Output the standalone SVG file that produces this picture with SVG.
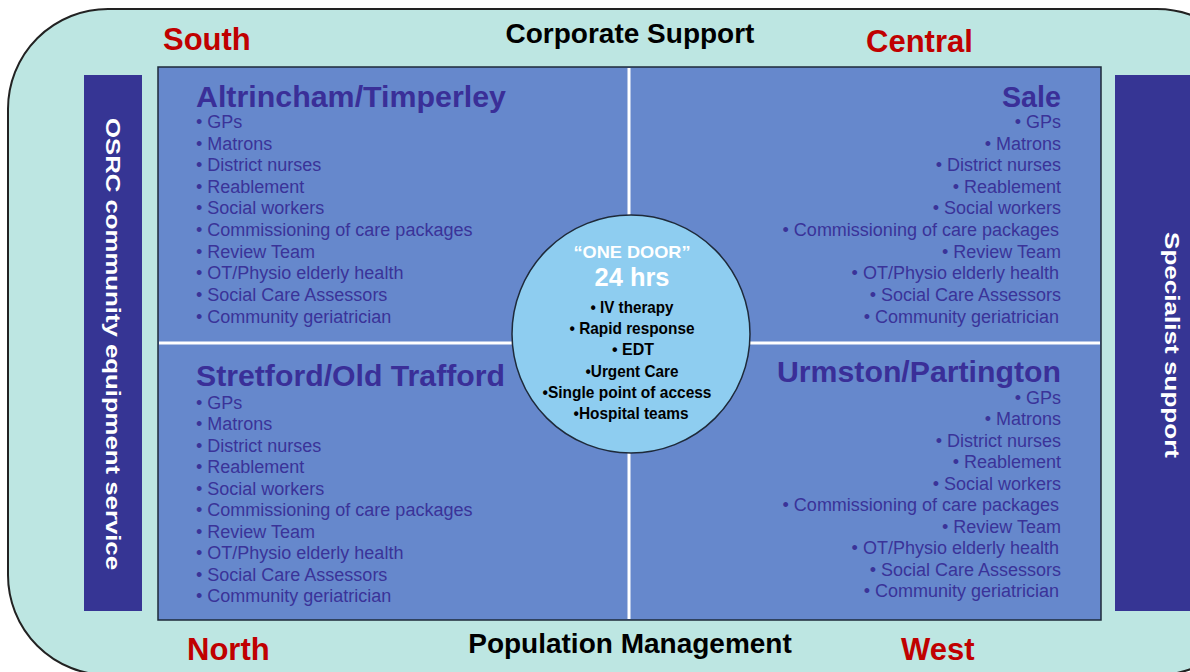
<svg xmlns="http://www.w3.org/2000/svg" width="1190" height="672" viewBox="0 0 1190 672">
<style>
.region{font-family:"Liberation Sans",Arial,sans-serif;font-weight:bold;font-size:31px;fill:#c00000}
.band{font-family:"Liberation Sans",Arial,sans-serif;font-weight:bold;font-size:28px;fill:#000}
.head{font-family:"Liberation Sans",Arial,sans-serif;font-weight:bold;font-size:29px;fill:#3a2f98}
.item{font-family:"Liberation Sans",Arial,sans-serif;font-size:18px;fill:#3a3399}
.side{font-family:"Liberation Sans",Arial,sans-serif;font-weight:bold;font-size:21px;fill:#fff}
.cw{font-family:"Liberation Sans",Arial,sans-serif;font-weight:bold;fill:#fff;text-anchor:middle}
.cb{font-family:"Liberation Sans Narrow","Liberation Sans",Arial,sans-serif;font-weight:bold;font-size:17px;fill:#000;text-anchor:middle}
.bar{fill:#363594}
.div{stroke:#fff;stroke-width:3}
</style>
<g id="background">
<rect x="8" y="9" width="1249" height="666" rx="100" ry="100" fill="#bde6e2" stroke="#222" stroke-width="2"/>
</g>
<g id="labels">
<text class="region" x="163" y="50">South</text>
<text class="region" x="866" y="52">Central</text>
<text class="region" x="187" y="660">North</text>
<text class="region" x="901" y="660">West</text>
<text class="band" x="630" y="43" text-anchor="middle">Corporate Support</text>
<text class="band" x="630" y="653" text-anchor="middle">Population Management</text>
</g>
<g id="osrc">
<rect class="bar" x="84" y="75" width="58" height="536"/>
<text class="side" x="113" y="344" text-anchor="middle" dominant-baseline="central" transform="rotate(90 113 344)" textLength="452" lengthAdjust="spacingAndGlyphs">OSRC community equipment service</text>
</g>
<g id="specialist">
<rect class="bar" x="1115" y="75" width="90" height="536"/>
<text class="side" x="1172" y="345" text-anchor="middle" dominant-baseline="central" transform="rotate(90 1172 345)" textLength="226" lengthAdjust="spacingAndGlyphs">Specialist support</text>
</g>
<g id="panel">
<rect x="158" y="67" width="943" height="553" fill="#6688cc" stroke="#1e2a3a" stroke-width="1.5"/>
</g>
<g id="connectors">
<line class="div" x1="629" y1="68" x2="629" y2="619"/>
<line class="div" x1="159" y1="343" x2="1100" y2="343"/>
</g>
<g id="altrincham">
<text class="head" x="196" y="107" textLength="310" lengthAdjust="spacingAndGlyphs">Altrincham/Timperley</text>
<text class="item" x="196" y="128">• GPs</text>
<text class="item" x="196" y="150">• Matrons</text>
<text class="item" x="196" y="171">• District nurses</text>
<text class="item" x="196" y="193">• Reablement</text>
<text class="item" x="196" y="214">• Social workers</text>
<text class="item" x="196" y="236">• Commissioning of care packages</text>
<text class="item" x="196" y="258">• Review Team</text>
<text class="item" x="196" y="279">• OT/Physio elderly health</text>
<text class="item" x="196" y="301">• Social Care Assessors</text>
<text class="item" x="196" y="323">• Community geriatrician</text>
</g>
<g id="sale" text-anchor="end">
<text class="head" x="1061" y="107" textLength="59" lengthAdjust="spacingAndGlyphs">Sale</text>
<text class="item" x="1061" y="128">• GPs</text>
<text class="item" x="1061" y="150">• Matrons</text>
<text class="item" x="1061" y="171">• District nurses</text>
<text class="item" x="1061" y="193">• Reablement</text>
<text class="item" x="1061" y="214">• Social workers</text>
<text class="item" x="1059" y="236">• Commissioning of care packages</text>
<text class="item" x="1061" y="258">• Review Team</text>
<text class="item" x="1059" y="279">• OT/Physio elderly health</text>
<text class="item" x="1061" y="301">• Social Care Assessors</text>
<text class="item" x="1059" y="323">• Community geriatrician</text>
</g>
<g id="stretford">
<text class="head" x="196" y="386" textLength="309" lengthAdjust="spacingAndGlyphs">Stretford/Old Trafford</text>
<text class="item" x="196" y="409">• GPs</text>
<text class="item" x="196" y="430">• Matrons</text>
<text class="item" x="196" y="452">• District nurses</text>
<text class="item" x="196" y="473">• Reablement</text>
<text class="item" x="196" y="495">• Social workers</text>
<text class="item" x="196" y="516">• Commissioning of care packages</text>
<text class="item" x="196" y="538">• Review Team</text>
<text class="item" x="196" y="559">• OT/Physio elderly health</text>
<text class="item" x="196" y="581">• Social Care Assessors</text>
<text class="item" x="196" y="602">• Community geriatrician</text>
</g>
<g id="urmston" text-anchor="end">
<text class="head" x="1061" y="382" textLength="284" lengthAdjust="spacingAndGlyphs">Urmston/Partington</text>
<text class="item" x="1061" y="404">• GPs</text>
<text class="item" x="1061" y="425">• Matrons</text>
<text class="item" x="1061" y="447">• District nurses</text>
<text class="item" x="1061" y="468">• Reablement</text>
<text class="item" x="1061" y="490">• Social workers</text>
<text class="item" x="1059" y="511">• Commissioning of care packages</text>
<text class="item" x="1061" y="533">• Review Team</text>
<text class="item" x="1059" y="554">• OT/Physio elderly health</text>
<text class="item" x="1061" y="576">• Social Care Assessors</text>
<text class="item" x="1059" y="597">• Community geriatrician</text>
</g>
<g id="one-door">
<circle cx="631" cy="334" r="119" fill="#8ecdf0" stroke="#1e2a3a" stroke-width="1.5"/>
<text class="cw" x="632" y="258" font-size="17" textLength="117" lengthAdjust="spacingAndGlyphs">“ONE DOOR”</text>
<text class="cw" x="632" y="286" font-size="26" textLength="75" lengthAdjust="spacingAndGlyphs">24 hrs</text>
<text class="cb" x="632" y="313" textLength="83" lengthAdjust="spacingAndGlyphs">• IV therapy</text>
<text class="cb" x="632" y="334" textLength="125" lengthAdjust="spacingAndGlyphs">• Rapid response</text>
<text class="cb" x="633" y="355" textLength="42" lengthAdjust="spacingAndGlyphs">• EDT</text>
<text class="cb" x="632" y="377" textLength="93" lengthAdjust="spacingAndGlyphs">•Urgent Care</text>
<text class="cb" x="627" y="398" textLength="169" lengthAdjust="spacingAndGlyphs">•Single point of access</text>
<text class="cb" x="631" y="419" textLength="115" lengthAdjust="spacingAndGlyphs">•Hospital teams</text>
</g>
</svg>
